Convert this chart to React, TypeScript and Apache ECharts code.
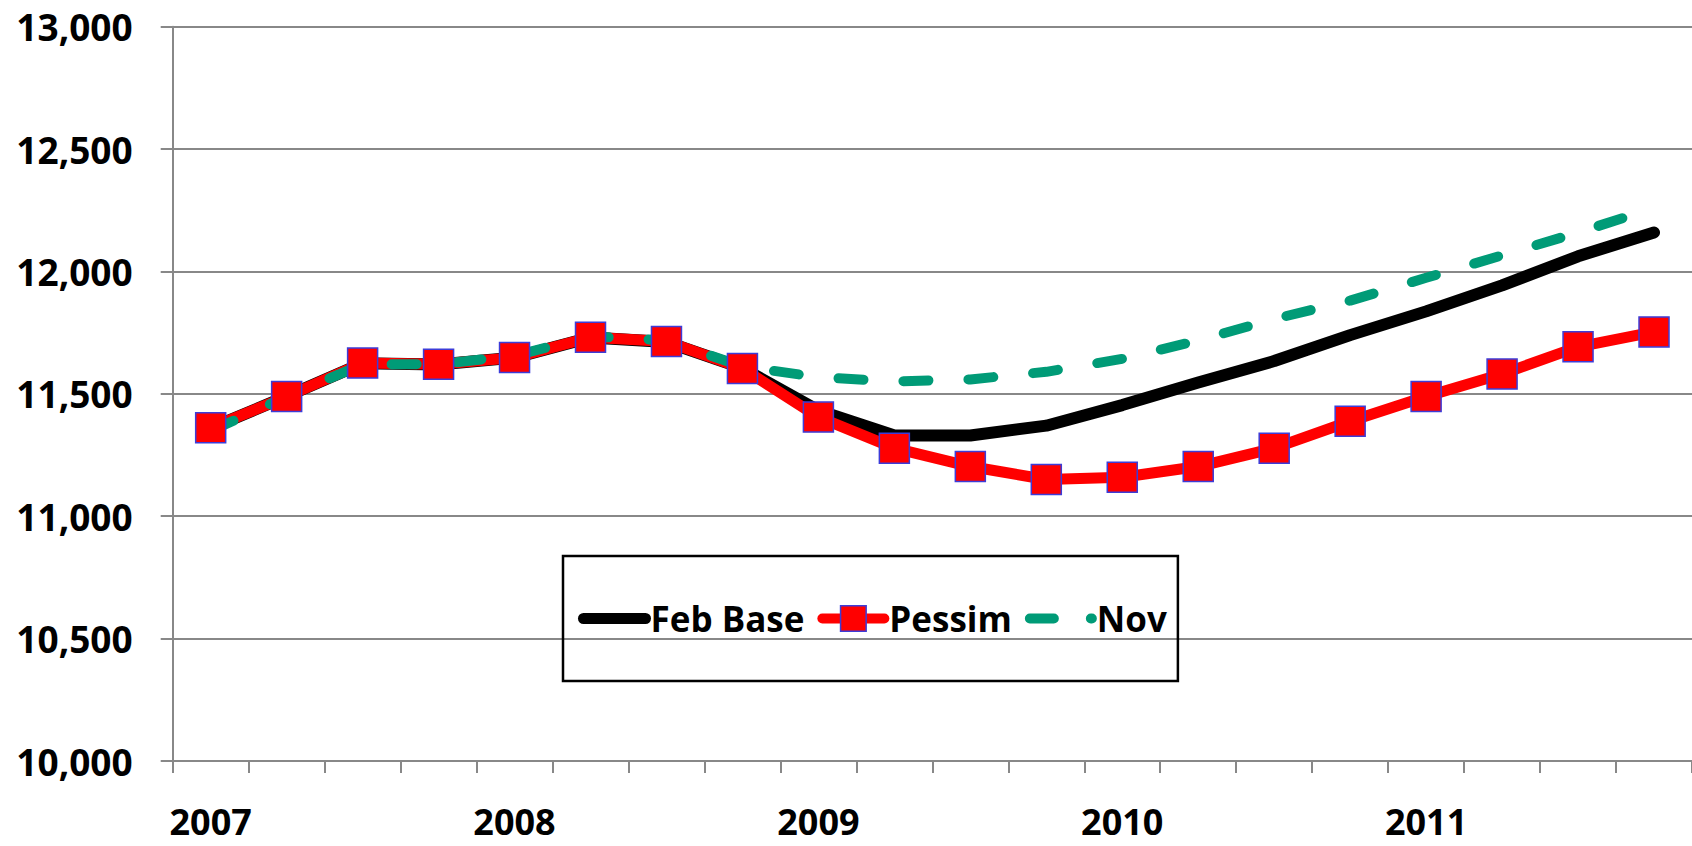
import React, { useEffect, useRef } from "react";
import * as echarts from "echarts";

const categories = [
  "2007 Q1", "2007 Q2", "2007 Q3", "2007 Q4",
  "2008 Q1", "2008 Q2", "2008 Q3", "2008 Q4",
  "2009 Q1", "2009 Q2", "2009 Q3", "2009 Q4",
  "2010 Q1", "2010 Q2", "2010 Q3", "2010 Q4",
  "2011 Q1", "2011 Q2", "2011 Q3", "2011 Q4",
];

const febBase = [11360, 11490, 11625, 11620, 11648, 11730, 11712, 11605, 11432, 11330, 11330, 11370, 11454, 11546, 11634, 11740, 11837, 11943, 12062, 12159];
const pessim = [11361, 11489, 11626, 11621, 11648, 11731, 11714, 11604, 11405, 11278, 11203, 11150, 11159, 11203, 11278, 11388, 11489, 11581, 11692, 11753];
const nov = [11348, 11489, 11621, 11621, 11656, 11735, 11718, 11612, 11568, 11551, 11559, 11590, 11643, 11718, 11806, 11881, 11974, 12066, 12159, 12260];

const yMin = 10000;
const yMax = 13000;
const yStep = 500;

const FONT = "'Open Sans', sans-serif";
const GREEN = "#009b77";

export default function App() {
  const ref = useRef<HTMLDivElement>(null);
  useEffect(() => {
    if (!ref.current) return;
    const chart = echarts.init(ref.current, undefined, { renderer: "svg" });
    chart.setOption({
      animation: false,
      backgroundColor: "#ffffff",
      grid: { left: 172.7, right: 0, top: 26.7, bottom: 85, containLabel: false },
      legend: {
        left: 563,
        top: 556,
        orient: "horizontal",
        borderColor: "#000000",
        borderWidth: 2.5,
        padding: [45, 11, 45, 15],
        itemGap: 13,
        itemWidth: 62,
        itemHeight: 32,
        textStyle: { fontFamily: FONT, fontWeight: "bold", fontSize: 35, color: "#000" },
        data: [
          { name: "Feb Base", itemStyle: { opacity: 0 }, lineStyle: { width: 11 } },
          { name: "Pessim", lineStyle: { width: 10 }, itemStyle: { borderWidth: 1.5 } },
          { name: "Nov", itemStyle: { opacity: 0 }, lineStyle: { width: 10, type: [24, 37] } },
        ],
      },
      xAxis: {
        type: "category",
        data: categories,
        boundaryGap: true,
        axisLine: { show: true, lineStyle: { color: "#888888", width: 2 } },
        axisTick: { show: true, interval: 0, length: 12, lineStyle: { color: "#888888", width: 2 } },
        axisLabel: {
          interval: 3,
          margin: 42,
          lineHeight: 36,
          fontFamily: FONT,
          fontWeight: "bold",
          fontSize: 36,
          color: "#000",
          formatter: (v: string) => v.slice(0, 4),
        },
        splitLine: { show: false },
      },
      yAxis: {
        type: "value",
        min: yMin,
        max: yMax,
        interval: yStep,
        axisLine: { show: true, lineStyle: { color: "#888888", width: 2 } },
        axisTick: { show: true, length: 12, lineStyle: { color: "#888888", width: 2 } },
        axisLabel: {
          margin: 40,
          fontFamily: FONT,
          fontWeight: "bold",
          fontSize: 37,
          color: "#000",
          formatter: (v: number) => v.toLocaleString("en-US"),
        },
        splitLine: { show: true, lineStyle: { color: "#888888", width: 2 } },
      },
      series: [
        {
          name: "Feb Base",
          type: "line",
          data: febBase,
          symbol: "none",
          color: "#000000",
          lineStyle: { color: "#000000", width: 12, cap: "round", join: "round" },
        },
        {
          name: "Pessim",
          type: "line",
          data: pessim,
          symbol: "rect",
          symbolSize: 30,
          color: "#ff0000",
          itemStyle: { color: "#ff0000", borderColor: "#3c3cd8", borderWidth: 1.5 },
          lineStyle: { color: "#ff0000", width: 11, cap: "round", join: "round" },
        },
        {
          name: "Nov",
          type: "line",
          data: nov,
          symbol: "none",
          color: GREEN,
          lineStyle: { color: GREEN, width: 10, type: [25, 40], cap: "round", join: "round" },
        },
      ],
    });
    return () => chart.dispose();
  }, []);
  return (
    <div
      ref={ref}
      style={{ position: "fixed", left: 0, top: 0, width: 1692, height: 846 }}
    />
  );
}
